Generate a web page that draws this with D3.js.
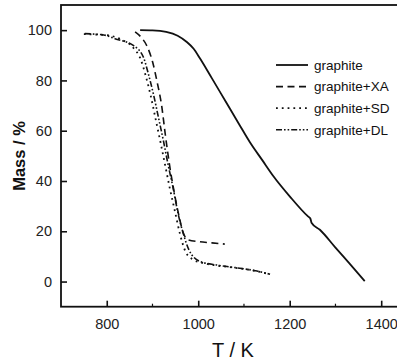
<!DOCTYPE html>
<html>
<head>
<meta charset="utf-8">
<script src="https://cdn.jsdelivr.net/npm/d3@7"></script>
<style>
  body { margin: 0; background: #fff; }
  svg { display: block; }
  .tick text { font-family: "Liberation Sans Narrow", "Arial Narrow", sans-serif; font-size: 14.5px; fill: #222; }
</style>
</head>
<body>
<svg id="chart" width="397" height="363"></svg>
<script>
// values (T in K, mass in %)
var seriesNames = ["graphite", "graphite+XA", "graphite+SD", "graphite+DL"];

var graphite = [[873,100],[900,99.9],[930,99.3],[955,97.8],[975,95.3],[990,92.6],[1004,88.7],
  [1030,80.8],[1060,71.6],[1090,62.4],[1113,55.4],[1140,48.3],[1164,42],[1200,33.9],
  [1240,25.9],[1245,25.1],[1248,23.3],[1266,20.6],[1300,13.5],[1330,7.3],[1364,0.2]];

var graphiteXA = [[862,99.3],[875,97.2],[887,94],[900,87.5],[910,79.5],[920,70],[928,58.5],
  [938,45.5],[948,35],[958,26],[967,19.5],[978,16.6],[1000,15.9],[1030,15.4],[1058,14.9]];

var graphiteSD = [[750,98.4],[800,98],[830,96.4],[858,93],[874,88.5],[885,82],[896,74],
  [907,64.5],[918,55],[928,46],[938,37],[949,28],[960,19],[972,12],[988,8.8],[1010,7.4],
  [1040,6.4],[1080,5.5],[1120,4.4],[1155,3]];

var graphiteDL = [[752,98.6],[796,98],[818,96.6],[858,93.9],[880,89.3],[891,82.6],[902,74.6],
  [913,65.3],[924,55.9],[934,46.6],[945,37.3],[956,27],[967,19.3],[980,12.5],[1004,8],
  [1040,6.6],[1091,5.3],[1125,4.3],[1157,2.9]];

var xTicks = [800, 1000, 1200, 1400];
var xMinor = [900, 1100, 1300];
var yTicks = [0, 20, 40, 60, 80, 100];

var allSeries = [graphite, graphiteXA, graphiteSD, graphiteDL];
var dashes = [null, "7,4.5", "1.8,4", "6,2,1.6,2,1.6,2"];
var widths = [1.8, 1.6, 1.8, 1.6];

var svg = d3.select("#chart");

var x = d3.scaleLinear().domain([700, 1440]).range([61, 399.5]);
var y = d3.scaleLinear().domain([-10, 110]).range([306.7, 5]);

// frame
svg.append("rect")
  .attr("x", x(700)).attr("y", y(110))
  .attr("width", x(1440) - x(700)).attr("height", y(-10) - y(110))
  .attr("fill", "none").attr("stroke", "#111").attr("stroke-width", 1.8);

// axes, ticks pointing inwards
var xAxis = svg.append("g").attr("transform", "translate(0," + y(-10) + ")")
  .call(d3.axisBottom(x).tickValues(xTicks).tickSize(-6).tickPadding(12).tickFormat(d3.format("d")));
xAxis.select(".domain").remove();
xAxis.selectAll(".tick line").attr("stroke", "#111").attr("stroke-width", 1.6);

svg.append("g").attr("transform", "translate(0," + y(-10) + ")")
  .selectAll("line").data(xMinor).enter().append("line")
  .attr("x1", function(d) { return x(d); }).attr("x2", function(d) { return x(d); })
  .attr("y1", 0).attr("y2", -3)
  .attr("stroke", "#111").attr("stroke-width", 1.2);

var yAxis = svg.append("g").attr("transform", "translate(" + x(700) + ",0)")
  .call(d3.axisLeft(y).tickValues(yTicks).tickSize(-6).tickPadding(9).tickFormat(d3.format("d")));
yAxis.select(".domain").remove();
yAxis.selectAll(".tick line").attr("stroke", "#111").attr("stroke-width", 1.6);

// curves
var line = d3.line()
  .x(function(d) { return x(d[0]); })
  .y(function(d) { return y(d[1]); })
  .curve(d3.curveMonotoneX);

svg.selectAll("path.curve")
  .data(allSeries)
  .enter().append("path")
  .attr("class", "curve")
  .attr("d", line)
  .attr("fill", "none")
  .attr("stroke", "#111")
  .attr("stroke-width", function(d, i) { return widths[i]; })
  .attr("stroke-dasharray", function(d, i) { return dashes[i]; });

// legend
var legend = svg.append("g").attr("transform", "translate(276,65)");
var item = legend.selectAll("g").data(seriesNames).enter().append("g")
  .attr("transform", function(d, i) { return "translate(0," + (i * 21.6) + ")"; });
item.append("line")
  .attr("x1", 0).attr("x2", 32).attr("y1", 0).attr("y2", 0)
  .attr("stroke", "#111")
  .attr("stroke-width", function(d, i) { return widths[i]; })
  .attr("stroke-dasharray", function(d, i) { return dashes[i]; });
item.append("text")
  .attr("x", 38).attr("y", 0).attr("dy", "0.35em")
  .style("font-family", "'Liberation Sans Narrow', 'Arial Narrow', sans-serif")
  .style("font-size", "13.5px")
  .style("fill", "#111")
  .text(function(d) { return d; });

// axis titles
svg.append("text")
  .attr("x", 233).attr("y", 357)
  .attr("text-anchor", "middle")
  .style("font-family", "'Liberation Sans', Arial, sans-serif")
  .style("font-size", "20px")
  .style("fill", "#111")
  .text("T / K");

svg.append("text")
  .attr("transform", "translate(25,156) rotate(-90)")
  .attr("text-anchor", "middle")
  .style("font-family", "'Liberation Sans', Arial, sans-serif")
  .style("font-size", "16.5px")
  .style("font-weight", "bold")
  .style("fill", "#111")
  .text("Mass / %");
</script>
</body>
</html>
